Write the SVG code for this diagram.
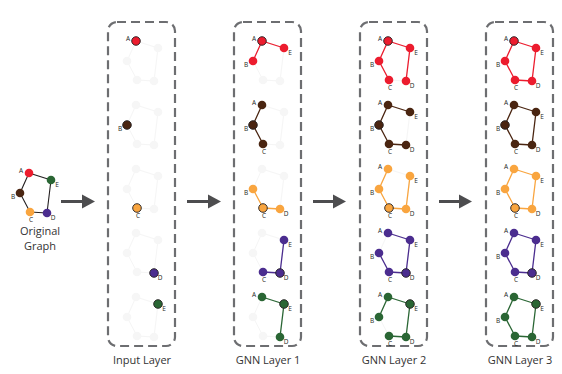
<svg xmlns="http://www.w3.org/2000/svg" xmlns:xlink="http://www.w3.org/1999/xlink" width="562" height="374" viewBox="0 0 562 374">
<style>
.box{fill:none;stroke:#6d6e71;stroke-width:2.2;stroke-dasharray:9 5}
.gp{fill:none;stroke:#f5f5f5;stroke-width:1}
.gn{fill:#f6f6f6}
.lbl{font-family:"Open Sans","Liberation Sans",sans-serif;font-size:6.5px;fill:#231f20;text-anchor:middle}
.title{font-family:"Open Sans","Liberation Sans",sans-serif;font-size:11px;fill:#333333;text-anchor:middle}
.e{fill:none;stroke-width:1.3;stroke-linejoin:round}
.ek{fill:none;stroke:#231f20;stroke-width:1.1;stroke-linejoin:round}
.cA{fill:#ec1c2e}.sA{stroke:#ec1c2e}
.cB{fill:#4a2511}.sB{stroke:#4a2511}
.cC{fill:#f9a53f}.sC{stroke:#f9a53f}
.cD{fill:#4b2d8f}.sD{stroke:#4b2d8f}
.cE{fill:#2a6634}.sE{stroke:#2a6634}
.hl{stroke:#231f20;stroke-width:0.9}
.arr line{stroke:#4d4d4f;stroke-width:3}
.arr polygon{fill:#4d4d4f}
</style>
<defs>
<g id="ghost">
<polygon class="gp" points="0,0 22,7 18,40 1,39 -9,20"/>
<circle class="gn" cx="0" cy="0" r="4.3"/><circle class="gn" cx="22" cy="7" r="4.3"/><circle class="gn" cx="18" cy="40" r="4.3"/><circle class="gn" cx="1" cy="39" r="4.3"/><circle class="gn" cx="-9" cy="20" r="4.3"/>
</g>
</defs>

<!-- Original graph -->
<g id="original" transform="translate(29,173)">
<polygon class="ek" points="0,0 22,7 18,40 1,39 -9,20"/>
<circle class="cA" cx="0" cy="0" r="4.3"/><circle class="cE" cx="22" cy="7" r="4.3"/><circle class="cD" cx="18" cy="40" r="4.3"/><circle class="cC" cx="1" cy="39" r="4.3"/><circle class="cB" cx="-9" cy="20" r="4.3"/>
<text class="lbl" x="-8" y="0">A</text><text class="lbl" x="28" y="14">E</text><text class="lbl" x="24" y="47">D</text><text class="lbl" x="2" y="49">C</text><text class="lbl" x="-16" y="26">B</text>
</g>
<text class="title" x="40" y="235">Original</text>
<text class="title" x="40" y="250">Graph</text>

<!-- Boxes -->
<g id="boxes">
<rect class="box" x="108" y="22" width="67" height="324" rx="9"/>
<rect class="box" x="234" y="22" width="67" height="324" rx="9"/>
<rect class="box" x="360" y="22" width="67" height="324" rx="9"/>
<rect class="box" x="486" y="22" width="67" height="324" rx="9"/>
</g>
<text class="title" x="142" y="364">Input Layer</text>
<text class="title" x="268" y="364">GNN Layer 1</text>
<text class="title" x="394" y="364">GNN Layer 2</text>
<text class="title" x="520" y="364">GNN Layer 3</text>

<!-- Input layer -->
<g id="in-A" transform="translate(136,41)"><use xlink:href="#ghost"/>
<circle class="cA hl" cx="0" cy="0" r="4.3"/><text class="lbl" x="-8" y="0">A</text></g>
<g id="in-B" transform="translate(136,105)"><use xlink:href="#ghost"/>
<circle class="cB hl" cx="-9" cy="20" r="4.3"/><text class="lbl" x="-16" y="26">B</text></g>
<g id="in-C" transform="translate(136,169)"><use xlink:href="#ghost"/>
<circle class="cC hl" cx="1" cy="39" r="4.3"/><text class="lbl" x="2" y="49">C</text></g>
<g id="in-D" transform="translate(136,233)"><use xlink:href="#ghost"/>
<circle class="cD hl" cx="18" cy="40" r="4.3"/><text class="lbl" x="24" y="47">D</text></g>
<g id="in-E" transform="translate(136,297)"><use xlink:href="#ghost"/>
<circle class="cE hl" cx="22" cy="7" r="4.3"/><text class="lbl" x="28" y="14">E</text></g>

<!-- GNN Layer 1 -->
<g id="l1-A" transform="translate(262,41)"><use xlink:href="#ghost"/>
<polyline class="e sA" points="-9,20 0,0 22,7"/>
<circle class="cA" cx="-9" cy="20" r="4.3"/><circle class="cA" cx="22" cy="7" r="4.3"/><circle class="cA hl" cx="0" cy="0" r="4.3"/>
<text class="lbl" x="-8" y="0">A</text><text class="lbl" x="28" y="14">E</text><text class="lbl" x="-16" y="26">B</text></g>
<g id="l1-B" transform="translate(262,105)"><use xlink:href="#ghost"/>
<polyline class="e sB" points="0,0 -9,20 1,39"/>
<circle class="cB" cx="0" cy="0" r="4.3"/><circle class="cB" cx="1" cy="39" r="4.3"/><circle class="cB hl" cx="-9" cy="20" r="4.3"/>
<text class="lbl" x="-8" y="0">A</text><text class="lbl" x="-16" y="26">B</text><text class="lbl" x="2" y="49">C</text></g>
<g id="l1-C" transform="translate(262,169)"><use xlink:href="#ghost"/>
<polyline class="e sC" points="-9,20 1,39 18,40"/>
<circle class="cC" cx="-9" cy="20" r="4.3"/><circle class="cC" cx="18" cy="40" r="4.3"/><circle class="cC hl" cx="1" cy="39" r="4.3"/>
<text class="lbl" x="-16" y="26">B</text><text class="lbl" x="2" y="49">C</text><text class="lbl" x="24" y="47">D</text></g>
<g id="l1-D" transform="translate(262,233)"><use xlink:href="#ghost"/>
<polyline class="e sD" points="1,39 18,40 22,7"/>
<circle class="cD" cx="1" cy="39" r="4.3"/><circle class="cD" cx="22" cy="7" r="4.3"/><circle class="cD hl" cx="18" cy="40" r="4.3"/>
<text class="lbl" x="28" y="14">E</text><text class="lbl" x="2" y="49">C</text><text class="lbl" x="24" y="47">D</text></g>
<g id="l1-E" transform="translate(262,297)"><use xlink:href="#ghost"/>
<polyline class="e sE" points="0,0 22,7 18,40"/>
<circle class="cE" cx="0" cy="0" r="4.3"/><circle class="cE" cx="18" cy="40" r="4.3"/><circle class="cE hl" cx="22" cy="7" r="4.3"/>
<text class="lbl" x="-8" y="0">A</text><text class="lbl" x="28" y="14">E</text><text class="lbl" x="24" y="47">D</text></g>

<!-- GNN Layer 2 -->
<g id="l2-A" transform="translate(388,41)"><use xlink:href="#ghost"/>
<polyline class="e sA" points="1,39 -9,20 0,0 22,7 18,40"/>
<circle class="cA" cx="22" cy="7" r="4.3"/><circle class="cA" cx="18" cy="40" r="4.3"/><circle class="cA" cx="1" cy="39" r="4.3"/><circle class="cA" cx="-9" cy="20" r="4.3"/><circle class="cA hl" cx="0" cy="0" r="4.3"/>
<text class="lbl" x="-8" y="0">A</text><text class="lbl" x="28" y="14">E</text><text class="lbl" x="24" y="47">D</text><text class="lbl" x="2" y="49">C</text><text class="lbl" x="-16" y="26">B</text></g>
<g id="l2-B" transform="translate(388,105)"><use xlink:href="#ghost"/>
<polyline class="e sB" points="22,7 0,0 -9,20 1,39 18,40"/>
<circle class="cB" cx="0" cy="0" r="4.3"/><circle class="cB" cx="22" cy="7" r="4.3"/><circle class="cB" cx="18" cy="40" r="4.3"/><circle class="cB" cx="1" cy="39" r="4.3"/><circle class="cB hl" cx="-9" cy="20" r="4.3"/>
<text class="lbl" x="-8" y="0">A</text><text class="lbl" x="28" y="14">E</text><text class="lbl" x="24" y="47">D</text><text class="lbl" x="2" y="49">C</text><text class="lbl" x="-16" y="26">B</text></g>
<g id="l2-C" transform="translate(388,169)"><use xlink:href="#ghost"/>
<polyline class="e sC" points="0,0 -9,20 1,39 18,40 22,7"/>
<circle class="cC" cx="0" cy="0" r="4.3"/><circle class="cC" cx="22" cy="7" r="4.3"/><circle class="cC" cx="18" cy="40" r="4.3"/><circle class="cC" cx="-9" cy="20" r="4.3"/><circle class="cC hl" cx="1" cy="39" r="4.3"/>
<text class="lbl" x="-8" y="0">A</text><text class="lbl" x="28" y="14">E</text><text class="lbl" x="24" y="47">D</text><text class="lbl" x="2" y="49">C</text><text class="lbl" x="-16" y="26">B</text></g>
<g id="l2-D" transform="translate(388,233)"><use xlink:href="#ghost"/>
<polyline class="e sD" points="-9,20 1,39 18,40 22,7 0,0"/>
<circle class="cD" cx="0" cy="0" r="4.3"/><circle class="cD" cx="22" cy="7" r="4.3"/><circle class="cD" cx="1" cy="39" r="4.3"/><circle class="cD" cx="-9" cy="20" r="4.3"/><circle class="cD hl" cx="18" cy="40" r="4.3"/>
<text class="lbl" x="-8" y="0">A</text><text class="lbl" x="28" y="14">E</text><text class="lbl" x="24" y="47">D</text><text class="lbl" x="2" y="49">C</text><text class="lbl" x="-16" y="26">B</text></g>
<g id="l2-E" transform="translate(388,297)"><use xlink:href="#ghost"/>
<polyline class="e sE" points="-9,20 0,0 22,7 18,40 1,39"/>
<circle class="cE" cx="0" cy="0" r="4.3"/><circle class="cE" cx="18" cy="40" r="4.3"/><circle class="cE" cx="1" cy="39" r="4.3"/><circle class="cE" cx="-9" cy="20" r="4.3"/><circle class="cE hl" cx="22" cy="7" r="4.3"/>
<text class="lbl" x="-8" y="0">A</text><text class="lbl" x="28" y="14">E</text><text class="lbl" x="24" y="47">D</text><text class="lbl" x="2" y="49">C</text><text class="lbl" x="-16" y="26">B</text></g>

<!-- GNN Layer 3 -->
<g id="l3-A" transform="translate(514,41)">
<polygon class="e sA" points="0,0 22,7 18,40 1,39 -9,20"/>
<circle class="cA" cx="22" cy="7" r="4.3"/><circle class="cA" cx="18" cy="40" r="4.3"/><circle class="cA" cx="1" cy="39" r="4.3"/><circle class="cA" cx="-9" cy="20" r="4.3"/><circle class="cA hl" cx="0" cy="0" r="4.3"/>
<text class="lbl" x="-8" y="0">A</text><text class="lbl" x="28" y="14">E</text><text class="lbl" x="24" y="47">D</text><text class="lbl" x="2" y="49">C</text><text class="lbl" x="-16" y="26">B</text></g>
<g id="l3-B" transform="translate(514,105)">
<polygon class="e sB" points="0,0 22,7 18,40 1,39 -9,20"/>
<circle class="cB" cx="0" cy="0" r="4.3"/><circle class="cB" cx="22" cy="7" r="4.3"/><circle class="cB" cx="18" cy="40" r="4.3"/><circle class="cB" cx="1" cy="39" r="4.3"/><circle class="cB hl" cx="-9" cy="20" r="4.3"/>
<text class="lbl" x="-8" y="0">A</text><text class="lbl" x="28" y="14">E</text><text class="lbl" x="24" y="47">D</text><text class="lbl" x="2" y="49">C</text><text class="lbl" x="-16" y="26">B</text></g>
<g id="l3-C" transform="translate(514,169)">
<polygon class="e sC" points="0,0 22,7 18,40 1,39 -9,20"/>
<circle class="cC" cx="0" cy="0" r="4.3"/><circle class="cC" cx="22" cy="7" r="4.3"/><circle class="cC" cx="18" cy="40" r="4.3"/><circle class="cC" cx="-9" cy="20" r="4.3"/><circle class="cC hl" cx="1" cy="39" r="4.3"/>
<text class="lbl" x="-8" y="0">A</text><text class="lbl" x="28" y="14">E</text><text class="lbl" x="24" y="47">D</text><text class="lbl" x="2" y="49">C</text><text class="lbl" x="-16" y="26">B</text></g>
<g id="l3-D" transform="translate(514,233)">
<polygon class="e sD" points="0,0 22,7 18,40 1,39 -9,20"/>
<circle class="cD" cx="0" cy="0" r="4.3"/><circle class="cD" cx="22" cy="7" r="4.3"/><circle class="cD" cx="1" cy="39" r="4.3"/><circle class="cD" cx="-9" cy="20" r="4.3"/><circle class="cD hl" cx="18" cy="40" r="4.3"/>
<text class="lbl" x="-8" y="0">A</text><text class="lbl" x="28" y="14">E</text><text class="lbl" x="24" y="47">D</text><text class="lbl" x="2" y="49">C</text><text class="lbl" x="-16" y="26">B</text></g>
<g id="l3-E" transform="translate(514,297)">
<polygon class="e sE" points="0,0 22,7 18,40 1,39 -9,20"/>
<circle class="cE" cx="0" cy="0" r="4.3"/><circle class="cE" cx="18" cy="40" r="4.3"/><circle class="cE" cx="1" cy="39" r="4.3"/><circle class="cE" cx="-9" cy="20" r="4.3"/><circle class="cE hl" cx="22" cy="7" r="4.3"/>
<text class="lbl" x="-8" y="0">A</text><text class="lbl" x="28" y="14">E</text><text class="lbl" x="24" y="47">D</text><text class="lbl" x="2" y="49">C</text><text class="lbl" x="-16" y="26">B</text></g>

<!-- Connectors -->
<g id="connectors" class="arr">
<line x1="61" y1="201.5" x2="84" y2="201.5"/><polygon points="95,201.5 82,194.5 82,208.5"/>
<line x1="187" y1="201.5" x2="210" y2="201.5"/><polygon points="221,201.5 208,194.5 208,208.5"/>
<line x1="313" y1="201.5" x2="335" y2="201.5"/><polygon points="346,201.5 333,194.5 333,208.5"/>
<line x1="439" y1="201.5" x2="461" y2="201.5"/><polygon points="472,201.5 459,194.5 459,208.5"/>
</g>
</svg>
